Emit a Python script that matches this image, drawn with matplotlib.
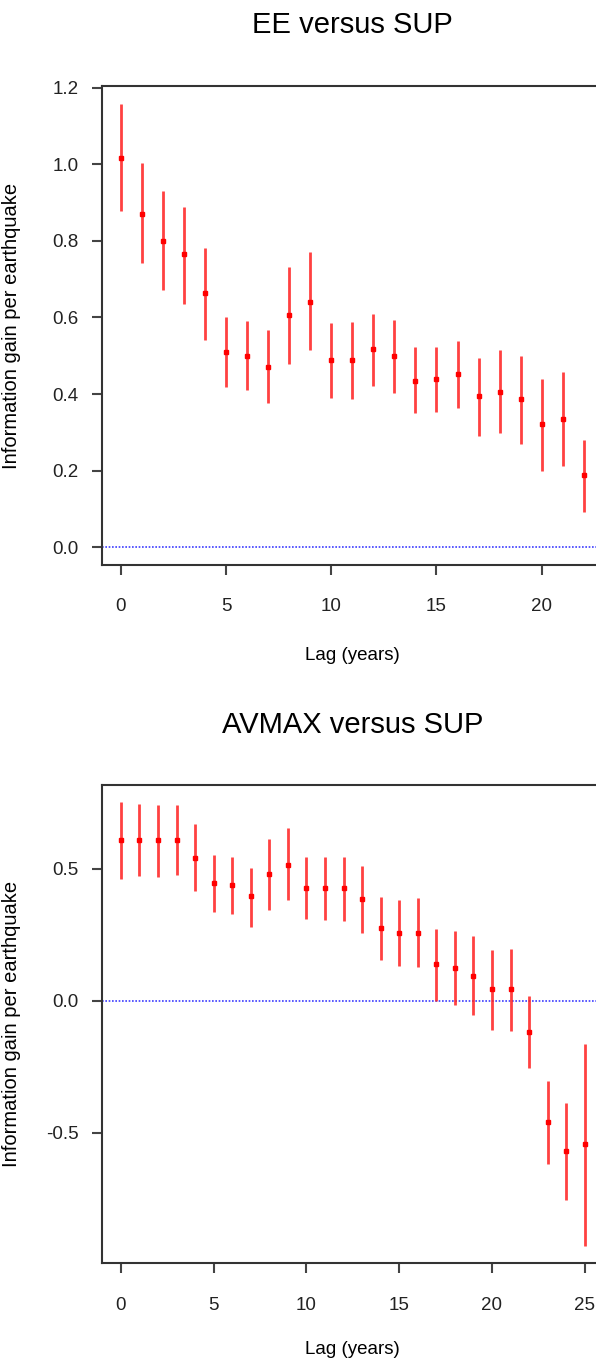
import matplotlib
matplotlib.use("Agg")
import matplotlib.pyplot as plt
import numpy as np

plt.rcParams["font.family"] = ["Liberation Sans", "DejaVu Sans"]
plt.rcParams["axes.unicode_minus"] = False

# EE versus SUP
lag_ee = list(range(0, 23))
gain_ee = [1.017, 0.870, 0.799, 0.765, 0.665, 0.511, 0.500, 0.470, 0.606, 0.641,
           0.488, 0.488, 0.517, 0.500, 0.435, 0.440, 0.453, 0.394, 0.405, 0.388,
           0.323, 0.335, 0.188]
low_ee = [0.877, 0.741, 0.672, 0.635, 0.542, 0.418, 0.411, 0.378, 0.479, 0.514,
          0.390, 0.388, 0.420, 0.403, 0.351, 0.353, 0.364, 0.290, 0.299, 0.270,
          0.200, 0.212, 0.093]
high_ee = [1.158, 1.002, 0.931, 0.889, 0.780, 0.601, 0.590, 0.566, 0.731, 0.772,
           0.585, 0.588, 0.609, 0.594, 0.523, 0.524, 0.539, 0.494, 0.516, 0.500,
           0.440, 0.458, 0.279]

# AVMAX versus SUP
lag_av = list(range(0, 26))
gain_av = [0.607, 0.607, 0.607, 0.607, 0.539, 0.445, 0.436, 0.395, 0.479, 0.513,
           0.428, 0.428, 0.428, 0.386, 0.274, 0.258, 0.258, 0.139, 0.122, 0.095,
           0.044, 0.044, -0.118, -0.457, -0.569, -0.543]
low_av = [0.462, 0.471, 0.469, 0.475, 0.415, 0.334, 0.327, 0.279, 0.344, 0.381,
          0.310, 0.305, 0.302, 0.255, 0.153, 0.132, 0.129, 0.000, -0.015, -0.054,
          -0.112, -0.116, -0.254, -0.618, -0.754, -0.926]
high_av = [0.750, 0.743, 0.739, 0.741, 0.667, 0.552, 0.545, 0.501, 0.612, 0.655,
           0.545, 0.545, 0.545, 0.509, 0.393, 0.381, 0.388, 0.273, 0.264, 0.246,
           0.192, 0.195, 0.019, -0.304, -0.386, -0.162]

W, H = 596, 1362
fig = plt.figure(figsize=(W / 100, H / 100), dpi=100)


def panel(rect, lag, gain, low, high, title, xlim, ylim, yticks, tpad, xpad):
    ax = fig.add_axes(rect)
    ax.axhline(0, color="#3c3cff", lw=1.2, ls=(0, (1, 1)), zorder=1)
    ax.vlines(lag, low, high, color="#ff2020", lw=2, alpha=0.85, zorder=2)
    ax.plot(lag, gain, "s", color="red", ms=3, zorder=3)
    ax.set_xlim(*xlim)
    ax.set_ylim(*ylim)
    ax.set_xticks(np.arange(0, xlim[1], 5))
    ax.set_yticks(yticks)
    ax.set_yticklabels(["%.1f" % v for v in yticks])
    for s in ax.spines.values():
        s.set_color("#333333")
        s.set_linewidth(1.5)
    ax.tick_params(axis="both", direction="out", length=7, width=1.5,
                   color="#444444", labelsize=13.5, labelcolor="#222222")
    ax.tick_params(axis="x", pad=17)
    ax.tick_params(axis="y", pad=10)
    ax.set_title(title, fontsize=21, pad=tpad)
    ax.set_xlabel("Lag (years)", fontsize=13.5, labelpad=xpad)
    ax.set_ylabel("Information gain per earthquake", fontsize=14.5)
    ax.yaxis.set_label_coords(-81.0 / (rect[2] * W), 0.5)
    return ax


panel([102.3 / W, 1 - 565 / H, 500 / W, 479 / H], lag_ee, gain_ee, low_ee, high_ee,
      "EE versus SUP", (-0.88, 22.88), (-0.046, 1.204),
      [0.0, 0.2, 0.4, 0.6, 0.8, 1.0, 1.2], 38, 23)
panel([102.3 / W, 1 - 1263.3 / H, 501 / W, 478.6 / H], lag_av, gain_av, low_av, high_av,
      "AVMAX versus SUP", (-1, 26), (-0.993, 0.817),
      [-0.5, 0.0, 0.5], 37.5, 20)

fig.savefig("out.png", dpi=100)
